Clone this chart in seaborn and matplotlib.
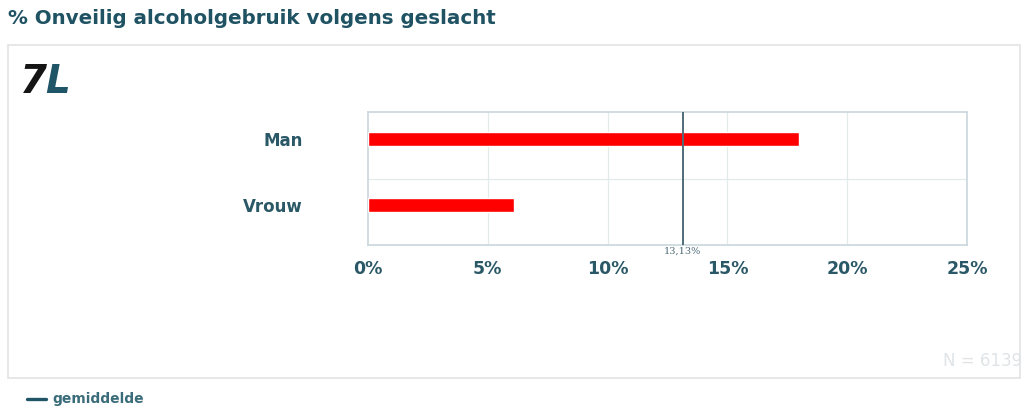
import matplotlib
matplotlib.use("Agg")
import matplotlib.pyplot as plt
from matplotlib.patches import Rectangle
import seaborn as sns
import pandas as pd

# Data
categories = ["Man", "Vrouw"]
values = [18.0, 6.1]
average = 13.13
n_respondents = 6139
x_ticks = [0, 5, 10, 15, 20, 25]

df = pd.DataFrame({"geslacht": categories, "pct": values})

sns.set_theme(style="white")
plt.rcParams["font.family"] = ["DejaVu Sans"]

W, H = 1028, 409
fig = plt.figure(figsize=(W / 100, H / 100), dpi=100)
fig.patch.set_facecolor("white")

teal = "#1f5262"
tick_col = "#2a5866"

def fx(px):
    return px / W

def fy(py):
    return 1 - py / H

# Outer panel (drawn behind the axes)
panel = Rectangle((fx(8), fy(378)), fx(1020) - fx(8), fy(45) - fy(378),
                  transform=fig.transFigure, facecolor="white",
                  edgecolor="#e2e4e4", linewidth=1.2, zorder=-5)
fig.patches.append(panel)

# Title
fig.text(fx(8), fy(19), "% Onveilig alcoholgebruik volgens geslacht",
         fontsize=14.3, fontweight="bold", color=teal, va="center", ha="left")

# Logo
fig.text(fx(20), fy(82), "7", fontsize=28, fontweight="heavy", style="italic",
         color="#151515", va="center", ha="left")
fig.text(fx(45), fy(82), "L", fontsize=28, fontweight="heavy", style="italic",
         color="#1f5566", va="center", ha="left")

# Plot area
ax = fig.add_axes([fx(368), fy(245), fx(967) - fx(368), fy(112) - fy(245)])
ax.set_zorder(2)
sns.barplot(data=df, x="pct", y="geslacht", orient="h", color="#ff0000",
            width=0.21, saturation=1, ax=ax, zorder=3)

ax.set_xlim(0, 25)
ax.set_ylim(1.6, -0.4)
ax.set_xticks(x_ticks)
ax.set_xticklabels([f"{t}%" for t in x_ticks])
ax.set_xlabel("")
ax.set_ylabel("")
ax.set_yticks([0, 1])
ax.set_yticklabels(categories)

ax.grid(False)
for t in x_ticks[1:-1]:
    ax.axvline(t, color="#e2eaec", linewidth=0.9, zorder=1)
ax.axhline(0.6, color="#e2eaec", linewidth=0.9, zorder=1)

for spine in ax.spines.values():
    spine.set_visible(True)
    spine.set_color("#c9d7dc")
    spine.set_linewidth(1.2)

ax.tick_params(axis="x", length=0, pad=11, labelsize=12.5, labelcolor=tick_col)
ax.tick_params(axis="y", length=0, pad=47, labelsize=12, labelcolor=tick_col)
for lbl in ax.get_xticklabels() + ax.get_yticklabels():
    lbl.set_fontweight("bold")

# Average line
ax.axvline(average, color="#4f6b78", linewidth=1.4, zorder=4)
ax.text(average, 1.63, f"{average:.2f}%".replace(".", ","), fontsize=7,
        family="DejaVu Serif", color="#4f6b78", ha="center", va="top")

# Sample size
fig.text(fx(1022), fy(361), f"N = {n_respondents}", fontsize=12,
         color="#e0e4e6", ha="right", va="center")

# Legend
fig.lines.append(plt.Line2D([fx(27), fx(46)], [fy(399), fy(399)],
                            transform=fig.transFigure, color="#1f5566",
                            linewidth=2.4))
fig.text(fx(52), fy(399), "gemiddelde", fontsize=10, fontweight="bold",
         color="#3a6c7a", va="center", ha="left")

fig.savefig("out.png", dpi=100, facecolor="white")
